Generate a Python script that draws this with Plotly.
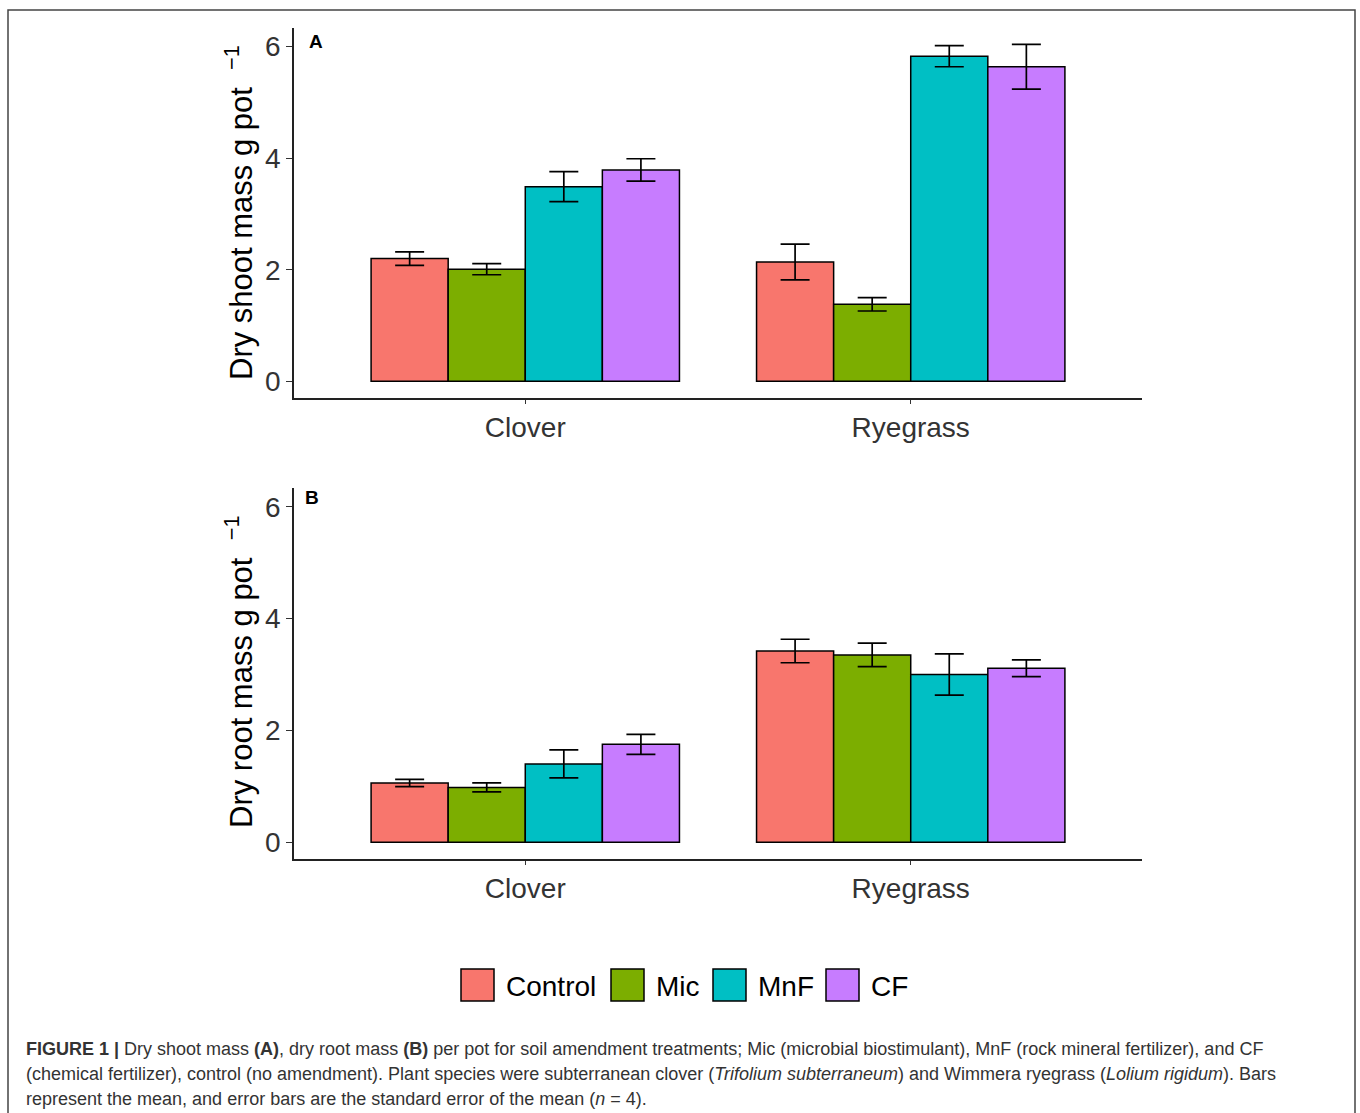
import plotly.graph_objects as go

# ---- data -------------------------------------------------------------
species = ["Clover", "Ryegrass"]
treatments = ["Control", "Mic", "MnF", "CF"]
colors = ["#F8766D", "#7CAE00", "#00BFC4", "#C77CFF"]

# dry shoot mass (g pot^-1), mean and standard error, per treatment
shoot_mean = {
    "Control": [2.20, 2.14],
    "Mic": [2.01, 1.38],
    "MnF": [3.49, 5.83],
    "CF": [3.79, 5.64],
}
shoot_se = {
    "Control": [0.12, 0.32],
    "Mic": [0.10, 0.12],
    "MnF": [0.27, 0.19],
    "CF": [0.20, 0.40],
}

# dry root mass (g pot^-1), mean and standard error, per treatment
root_mean = {
    "Control": [1.06, 3.42],
    "Mic": [0.98, 3.35],
    "MnF": [1.40, 3.00],
    "CF": [1.75, 3.11],
}
root_se = {
    "Control": [0.065, 0.21],
    "Mic": [0.08, 0.21],
    "MnF": [0.25, 0.37],
    "CF": [0.18, 0.15],
}

y_ticks = [0, 2, 4, 6]

# ---- page geometry (pixels -> paper fractions) -------------------------
W, H = 1360, 1113
FONT = "Liberation Sans, Arial, Helvetica, sans-serif"


def px(x):
    return x / W


def py(y):
    return 1 - y / H


fig = go.Figure()

panels = [
    ("x", "y", shoot_mean, shoot_se),
    ("x2", "y2", root_mean, root_se),
]
for xa, ya, means, ses in panels:
    for name, col in zip(treatments, colors):
        fig.add_trace(go.Bar(
            x=species,
            y=means[name],
            name=name,
            xaxis=xa,
            yaxis=ya,
            marker=dict(color=col, line=dict(color="black", width=1.5)),
            error_y=dict(type="data", array=ses[name], visible=True,
                         color="black", thickness=1.7, width=14.5),
            showlegend=False,
        ))

axis_x = dict(
    type="category",
    range=[-0.6, 1.6],
    showline=True, linecolor="#222", linewidth=1.5,
    ticks="outside", ticklen=4, tickcolor="#333", tickwidth=1.2,
    tickfont=dict(family=FONT, size=28, color="#333"),
    showgrid=False, zeroline=False,
)
axis_y = dict(
    range=[-0.3, 6.335],
    tickvals=y_ticks,
    showline=True, linecolor="#222", linewidth=1.5,
    ticks="outside", ticklen=6, tickcolor="#333", tickwidth=1.2,
    tickfont=dict(family=FONT, size=28, color="#333"),
    showgrid=False, zeroline=False,
)

fig.update_layout(
    width=W, height=H,
    margin=dict(l=0, r=0, t=0, b=0),
    paper_bgcolor="white", plot_bgcolor="white",
    barmode="group", bargap=0.2, bargroupgap=0,
    showlegend=False,
    xaxis=dict(axis_x, domain=[px(294), px(1142)], anchor="y"),
    yaxis=dict(axis_y, domain=[py(398), py(28)], anchor="x"),
    xaxis2=dict(axis_x, domain=[px(294), px(1142)], anchor="y2"),
    yaxis2=dict(axis_y, domain=[py(859), py(488)], anchor="x2"),
)

annotations = []

# y-axis titles
for label, yc in [("Dry shoot mass g pot  <sup>−1</sup>", 212),
                  ("Dry root mass g pot  <sup>−1</sup>", 672)]:
    annotations.append(dict(
        text=label, x=px(239), y=py(yc), xref="paper", yref="paper",
        textangle=-90, showarrow=False, xanchor="center", yanchor="middle",
        font=dict(family=FONT, size=31, color="black"),
    ))

# panel letters
for letter, xc, yc in [("A", 316, 42), ("B", 312, 497)]:
    annotations.append(dict(
        text=f"<b>{letter}</b>", x=px(xc), y=py(yc), xref="paper", yref="paper",
        showarrow=False, xanchor="center", yanchor="middle",
        font=dict(family=FONT, size=19, color="black"),
    ))

# legend: coloured keys with labels
shapes = []
key_left = [461, 611, 713, 826]
for name, col, x0 in zip(treatments, colors, key_left):
    shapes.append(dict(
        type="rect", xref="paper", yref="paper",
        x0=px(x0), x1=px(x0 + 33), y0=py(1001), y1=py(969),
        fillcolor=col, line=dict(color="black", width=1.5),
    ))
    annotations.append(dict(
        text=name, x=px(x0 + 43), y=py(986), xref="paper", yref="paper",
        showarrow=False, xanchor="left", yanchor="middle",
        font=dict(family=FONT, size=28, color="black"),
    ))

# caption
caption_lines = [
    "<b>FIGURE 1 |</b> Dry shoot mass <b>(A)</b>, dry root mass <b>(B)</b> per pot for soil "
    "amendment treatments; Mic (microbial biostimulant), MnF (rock mineral fertilizer), and CF",
    "(chemical fertilizer), control (no amendment). Plant species were subterranean clover "
    "(<i>Trifolium subterraneum</i>) and Wimmera ryegrass (<i>Lolium rigidum</i>). Bars",
    "represent the mean, and error bars are the standard error of the mean (<i>n</i> = 4).",
]
for line, yc in zip(caption_lines, [1049, 1074, 1099]):
    annotations.append(dict(
        text=line, x=px(24), y=py(yc), xref="paper", yref="paper",
        showarrow=False, xanchor="left", yanchor="middle",
        font=dict(family=FONT, size=18, color="#333"),
    ))

# outer frame
shapes.append(dict(
    type="rect", xref="paper", yref="paper",
    x0=px(8), x1=px(1355), y0=py(1125), y1=py(10),
    line=dict(color="#444", width=1.5), fillcolor="rgba(0,0,0,0)",
))

fig.update_layout(annotations=annotations, shapes=shapes)

fig.write_html("out.html")
